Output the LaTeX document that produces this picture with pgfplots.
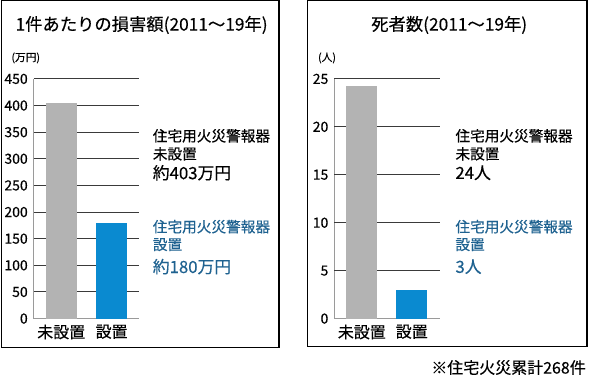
\documentclass[border=0pt]{standalone}
\usepackage{fontspec}
\setmainfont{Noto Sans CJK JP}[FakeBold=0.35]
\usepackage{pgfplots}
\pgfplotsset{compat=1.18}
\definecolor{barblue}{HTML}{0A8AD0}
\definecolor{bargray}{HTML}{B3B3B3}
\definecolor{txtblue}{HTML}{1F6290}
\definecolor{gridc}{HTML}{3A3A3A}
\definecolor{axisc}{HTML}{9A9A9A}
\newcommand{\fs}[1]{\fontsize{#1}{#1}\selectfont}
\pgfplotsset{
  myaxis/.style={
    scale only axis,
    height=180pt,
    ymin=0,
    axis x line*=bottom,
    axis y line*=left,
    axis line style={color=axisc, line width=0.9pt},
    major tick length=0pt,
    xtick={0,1},
    xticklabels={未設置,設置},
    xticklabel style={font=\fs{12}, yshift=-1pt},
    yticklabel style={font=\fs{10.5}, xshift=-1pt},
    /pgf/number format/assume math mode=true,
    extra y tick labels={},
    extra y tick style={grid=major},
    grid style={color=gridc, line width=0.8pt},
    clip=false,
  }
}
\begin{document}
\begin{tikzpicture}
\begin{scope}[x=0.75pt,y=-0.75pt]
\path[use as bounding box] (0,0) rectangle (600,381);
\draw[line width=0.9pt] (0.5,0.6) rectangle (278.5,348);
\draw[line width=0.9pt] (307,0.6) rectangle (587,347);
% titles
\node[font=\fs{13}] at (141,25) {1件あたりの損害額(2011〜19年)};
\node[font=\fs{13}] at (449,25) {死者数(2011〜19年)};
\node[font=\fs{8}, anchor=west] at (6,58) {(万円)};
\node[font=\fs{8}, anchor=west] at (313,58) {(人)};
% left annotations
\node[font=\fs{11}, anchor=west, inner sep=0pt] at (152,136) {住宅用火災警報器};
\node[font=\fs{11}, anchor=west, inner sep=0pt] at (152,154) {未設置};
\node[font=\fs{12.6}, anchor=west, inner sep=0pt] at (152,173) {約403万円};
\node[font=\fs{11}, anchor=west, inner sep=0pt, text=txtblue] at (152,227) {住宅用火災警報器};
\node[font=\fs{11}, anchor=west, inner sep=0pt, text=txtblue] at (152,245) {設置};
\node[font=\fs{12.6}, anchor=west, inner sep=0pt, text=txtblue] at (152,267) {約180万円};
% right annotations
\node[font=\fs{11}, anchor=west, inner sep=0pt] at (455,136) {住宅用火災警報器};
\node[font=\fs{11}, anchor=west, inner sep=0pt] at (455,154) {未設置};
\node[font=\fs{12.6}, anchor=west, inner sep=0pt] at (455,173) {24人};
\node[font=\fs{11}, anchor=west, inner sep=0pt, text=txtblue] at (455,227) {住宅用火災警報器};
\node[font=\fs{11}, anchor=west, inner sep=0pt, text=txtblue] at (455,245) {設置};
\node[font=\fs{12.6}, anchor=west, inner sep=0pt, text=txtblue] at (455,267) {3人};
% footnote
\node[font=\fs{12}, anchor=east, inner sep=0pt] at (586,368) {※住宅火災累計268件};
\end{scope}

\begin{axis}[myaxis,
  at={(24.75pt,-239.25pt)}, anchor=south west,
  width=78.75pt,
  xmin=-0.545, xmax=1.535, ymax=450,
  ytick={0,50,...,450},
  extra y ticks={50,100,...,450},
]
\addplot[ybar, bar width=0.614, bar shift=0pt, fill=bargray, draw=none] coordinates {(0,405)};
\addplot[ybar, bar width=0.614, bar shift=0pt, fill=barblue, draw=none] coordinates {(1,180)};
\end{axis}

\begin{axis}[myaxis,
  at={(250.5pt,-239.25pt)}, anchor=south west,
  width=79.5pt,
  xmin=-0.55, xmax=1.57, ymax=25,
  ytick={0,5,...,25},
  extra y ticks={5,10,...,25},
]
\addplot[ybar, bar width=0.62, bar shift=0pt, fill=bargray, draw=none] coordinates {(0,24.3)};
\addplot[ybar, bar width=0.62, bar shift=0pt, fill=barblue, draw=none] coordinates {(1,3)};
\end{axis}
\end{tikzpicture}
\end{document}
